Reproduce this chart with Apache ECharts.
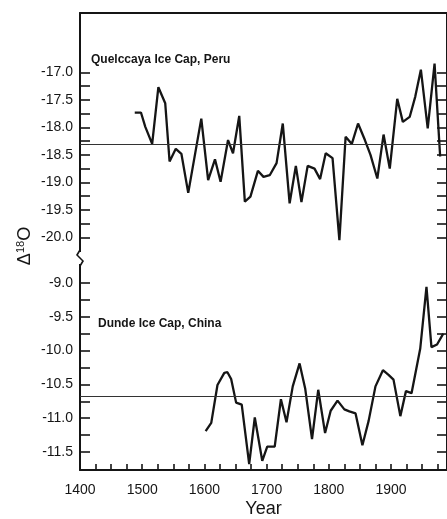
<!DOCTYPE html>
<html>
<head>
<meta charset="utf-8">
<script src="https://cdn.jsdelivr.net/npm/echarts@6/dist/echarts.min.js"></script>
<style>
  html, body { margin: 0; padding: 0; background: #fff; }
  #chart { width: 447px; height: 519px; }
</style>
</head>
<body>
<div id="chart"></div>
<script>
// Quelccaya Ice Cap (Peru) oxygen-isotope record
const quelccayaYears = [1488,1498,1505,1516,1526,1537,1544,1554,1563,1574,1595,1606,1617,1626,1638,1646,1656,1665,1674,1686,1695,1705,1716,1726,1737,1747,1756,1766,1777,1786,1795,1806,1817,1827,1837,1847,1858,1867,1878,1888,1898,1910,1919,1930,1939,1948,1959,1970,1979];
const quelccayaValues = [-17.73,-17.73,-17.99,-18.30,-17.27,-17.56,-18.62,-18.39,-18.48,-19.19,-17.84,-18.96,-18.58,-18.99,-18.23,-18.47,-17.79,-19.35,-19.26,-18.79,-18.90,-18.87,-18.65,-17.93,-19.38,-18.70,-19.36,-18.70,-18.75,-18.94,-18.47,-18.56,-20.05,-18.17,-18.30,-17.93,-18.23,-18.50,-18.93,-18.13,-18.75,-17.48,-17.90,-17.81,-17.44,-16.95,-18.02,-16.84,-18.53];
const quelccayaMean = -18.31;

// Dunde Ice Cap (China) oxygen-isotope record
const dundeYears = [1602,1611,1621,1632,1637,1643,1651,1660,1672,1681,1693,1701,1713,1723,1732,1742,1753,1762,1773,1783,1794,1803,1814,1825,1833,1843,1854,1864,1875,1887,1896,1904,1915,1924,1933,1947,1957,1965,1974,1984];
const dundeValues = [-11.19,-11.07,-10.51,-10.33,-10.32,-10.42,-10.77,-10.80,-11.68,-10.99,-11.63,-11.42,-11.42,-10.72,-11.06,-10.53,-10.19,-10.56,-11.31,-10.58,-11.22,-10.89,-10.74,-10.87,-10.90,-10.93,-11.40,-11.04,-10.53,-10.29,-10.36,-10.43,-10.97,-10.60,-10.63,-9.97,-9.06,-9.95,-9.91,-9.75];
const dundeMean = -10.68;

// Axis ticks and labels
const upperTicks = [-17.0,-17.25,-17.5,-17.75,-18.0,-18.25,-18.5,-18.75,-19.0,-19.25,-19.5,-19.75,-20.0];
const upperLabels = [-17.0,-17.5,-18.0,-18.5,-19.0,-19.5,-20.0];
const lowerTicks = [-9.0,-9.25,-9.5,-9.75,-10.0,-10.25,-10.5,-10.75,-11.0,-11.25,-11.5];
const lowerLabels = [-9.0,-9.5,-10.0,-10.5,-11.0,-11.5];
const yearLabels = [1400,1500,1600,1700,1800,1900];

const FONT = 'Liberation Sans, Arial, Helvetica, sans-serif';
const INK = '#151515';

const zip = (xs, ys) => xs.map((x, i) => [x, ys[i]]);

function yAxisFor(grid, pos, min, max, ticks, labels) {
  return {
    type: 'value', gridIndex: grid, position: pos, min: min, max: max,
    axisLine: { show: true, lineStyle: { color: INK, width: 2 } },
    axisTick: { show: true, inside: true, length: 10, customValues: ticks,
                lineStyle: { color: INK, width: 1.6 } },
    axisLabel: pos === 'left'
      ? { show: true, customValues: labels, margin: 7, fontFamily: FONT, fontSize: 14,
          color: INK, formatter: v => Number(v).toFixed(1) }
      : { show: false },
    splitLine: { show: false }
  };
}

const meanLine = (v) => ({
  silent: true, symbol: 'none', label: { show: false },
  lineStyle: { type: 'solid', color: '#333', width: 1.2 },
  data: [{ yAxis: v }]
});

const chart = echarts.init(document.getElementById('chart'), null, { renderer: 'canvas' });

chart.setOption({
  backgroundColor: '#ffffff',
  animation: false,
  title: [
    { text: 'Quelccaya Ice Cap, Peru', left: 91, top: 54, padding: 0,
      textStyle: { fontFamily: FONT, fontSize: 12, fontWeight: 'bold', color: INK } },
    { text: 'Dunde Ice Cap, China', left: 98, top: 318, padding: 0,
      textStyle: { fontFamily: FONT, fontSize: 12, fontWeight: 'bold', color: INK } }
  ],
  grid: [
    { left: 80, top: 13, width: 371, height: 245 },
    { left: 80, top: 258, width: 371, height: 215.3 }
  ],
  xAxis: [
    { type: 'value', gridIndex: 0, position: 'top', min: 1400, max: 1990,
      axisLine: { show: true, lineStyle: { color: INK, width: 2 } },
      axisTick: { show: false }, axisLabel: { show: false }, splitLine: { show: false } },
    { type: 'value', gridIndex: 1, position: 'bottom', min: 1400, max: 1990, interval: 25,
      name: 'Year', nameLocation: 'middle', nameGap: 30,
      nameTextStyle: { fontFamily: FONT, fontSize: 18, color: INK },
      axisLine: { show: true, lineStyle: { color: INK, width: 2 } },
      axisTick: { show: true, inside: true, length: 6, lineStyle: { color: INK, width: 1.6 } },
      axisLabel: { show: true, margin: 13, fontFamily: FONT, fontSize: 14, color: INK,
                   showMaxLabel: false,
                   formatter: v => (yearLabels.indexOf(v) >= 0 ? String(v) : '') },
      splitLine: { show: false } }
  ],
  yAxis: [
    yAxisFor(0, 'left', -20.375, -15.92, upperTicks, upperLabels),
    yAxisFor(0, 'right', -20.375, -15.92, upperTicks, upperLabels),
    yAxisFor(1, 'left', -11.766, -8.632, lowerTicks, lowerLabels),
    yAxisFor(1, 'right', -11.766, -8.632, lowerTicks, lowerLabels)
  ],
  series: [
    { name: 'Quelccaya', type: 'line', xAxisIndex: 0, yAxisIndex: 0,
      data: zip(quelccayaYears, quelccayaValues), showSymbol: false, symbol: 'none',
      lineStyle: { color: INK, width: 2.3 }, markLine: meanLine(quelccayaMean) },
    { name: 'Dunde', type: 'line', xAxisIndex: 1, yAxisIndex: 2,
      data: zip(dundeYears, dundeValues), showSymbol: false, symbol: 'none',
      lineStyle: { color: INK, width: 2.3 }, markLine: meanLine(dundeMean) }
  ],
  graphic: [
    // axis break mark between the two panels
    { type: 'rect', shape: { x: 76, y: 252, width: 8, height: 12 },
      style: { fill: '#fff' }, z: 100 },
    { type: 'polyline', shape: { points: [[80, 250], [77, 255], [83, 261], [80, 266]] },
      style: { stroke: INK, lineWidth: 1.6, fill: null }, z: 101 },
    // y-axis title
    { type: 'text', x: 25, y: 246, rotation: Math.PI / 2,
      style: {
        text: '{d|Δ}{s|18}{o|O}',
        align: 'center', verticalAlign: 'middle',
        fill: INK,
        rich: {
          d: { fontFamily: FONT, fontSize: 18, fill: INK, lineHeight: 20 },
          s: { fontFamily: FONT, fontSize: 11, fill: INK, verticalAlign: 'top', lineHeight: 20 },
          o: { fontFamily: FONT, fontSize: 18, fill: INK, lineHeight: 20 }
        }
      }, z: 100 }
  ]
});
</script>
</body>
</html>
